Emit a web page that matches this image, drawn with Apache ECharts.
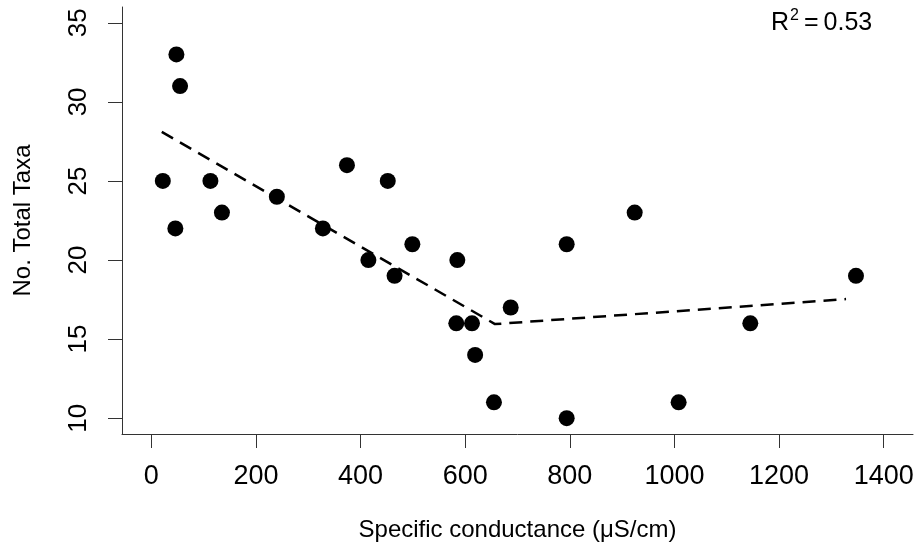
<!DOCTYPE html>
<html>
<head>
<meta charset="utf-8">
<script src="https://cdn.jsdelivr.net/npm/echarts@6/dist/echarts.min.js"></script>
<style>
  html, body { margin: 0; padding: 0; background: #fff; }
  #chart { width: 920px; height: 546px; }
</style>
</head>
<body>
<div id="chart"></div>
<script>
// observed sites: specific conductance vs number of taxa
const conductance = [22, 48, 55, 46, 113, 135, 240, 328, 374, 415, 452, 465, 499,
  585, 583, 613, 619, 655, 687, 794, 794, 924, 1008, 1145, 1347];
const totalTaxa = [25, 33, 31, 22, 25, 23, 24, 22, 26, 20, 25, 19, 21,
  20, 16, 16, 14, 11, 17, 21, 10, 23, 11, 16, 19];

// piecewise fit (dashed line)
const fitX = [20, 657, 1328];
const fitY = [28.1, 15.95, 17.53];

const xTicks = [0, 200, 400, 600, 800, 1000, 1200, 1400];
const yTicks = [10, 15, 20, 25, 30, 35];

const font = "'Liberation Sans', Arial, sans-serif";

const chart = echarts.init(document.getElementById("chart"));

const option = {
  animation: false,
  backgroundColor: "#fff",
  grid: {
    left: 122,
    right: 7,
    top: 7,
    bottom: 112,
    outerBoundsMode: "none",
  },
  xAxis: {
    type: "value",
    min: -56,
    max: 1456,
    name: "Specific conductance (\u03bcS/cm)",
    nameLocation: "middle",
    nameGap: 84,
    nameTextStyle: { fontFamily: font, fontSize: 24, color: "#000" },
    axisLine: { onZero: false, lineStyle: { color: "#333", width: 1 } },
    axisTick: { customValues: xTicks, length: 14, lineStyle: { color: "#333" } },
    axisLabel: {
      customValues: xTicks,
      margin: 29,
      fontFamily: font,
      fontSize: 27,
      color: "#000",
      formatter: (v) => String(v),
    },
    splitLine: { show: false },
  },
  yAxis: {
    type: "value",
    min: 9,
    max: 36,
    name: "No. Total Taxa",
    nameLocation: "middle",
    nameGap: 87,
    nameRotate: 90,
    nameTextStyle: { fontFamily: font, fontSize: 24, color: "#000" },
    axisLine: { show: true, onZero: false, lineStyle: { color: "#333", width: 1 } },
    axisTick: { show: true, customValues: yTicks, length: 14, lineStyle: { color: "#333" } },
    axisLabel: {
      customValues: yTicks,
      rotate: 90,
      margin: 30,
      fontFamily: font,
      fontSize: 26,
      color: "#000",
      formatter: (v) => String(v),
    },
    splitLine: { show: false },
  },
  graphic: [
    {
      type: "text",
      left: 771,
      top: 8,
      style: {
        text: "{r|R}{s|2}{r|\u2009=\u20090.53}",
        rich: {
          r: { fontFamily: font, fontSize: 25, color: "#000", lineHeight: 30 },
          s: { fontFamily: font, fontSize: 16, color: "#000", lineHeight: 30, padding: [0, 0, 14, 1] },
        },
      },
    },
  ],
  series: [
    {
      type: "scatter",
      symbol: "circle",
      symbolSize: 16,
      itemStyle: { color: "#000", opacity: 1 },
      data: conductance.map((x, i) => [x, totalTaxa[i]]),
      z: 3,
    },
    {
      type: "line",
      showSymbol: false,
      lineStyle: { color: "#000", width: 2.5, type: [13, 8] },
      data: fitX.map((x, i) => [x, fitY[i]]),
      z: 2,
    },
  ],
};

chart.setOption(option);
</script>
</body>
</html>
